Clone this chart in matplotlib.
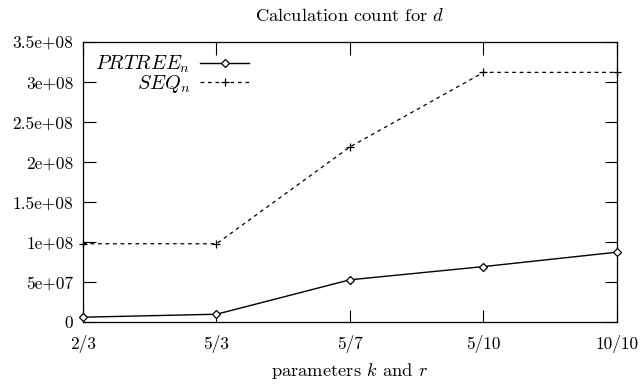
import matplotlib
matplotlib.use('Agg')
import matplotlib.pyplot as plt
import numpy as np

plt.rcParams['font.family'] = ['cmr10', 'DejaVu Serif']
plt.rcParams['mathtext.fontset'] = 'cm'
plt.rcParams['axes.unicode_minus'] = False

categories = ['2/3', '5/3', '5/7', '5/10', '10/10']
prtree = [6.3e6, 1.0e7, 5.3e7, 6.95e7, 8.75e7]
seq = [9.8e7, 9.8e7, 2.19e8, 3.12e8, 3.12e8]
yticks = [0, 5e7, 1e8, 1.5e8, 2e8, 2.5e8, 3e8, 3.5e8]
ylabels = ['0', '5e+07', '1e+08', '1.5e+08', '2e+08', '2.5e+08', '3e+08', '3.5e+08']

fig = plt.figure(figsize=(6.41, 3.85), dpi=100)
ax = fig.add_axes([0.1295, 0.163, 0.833, 0.728])

x = np.arange(len(categories))
ax.plot(x, prtree, color='black', lw=1.0, marker='D', markersize=4.5,
        markerfacecolor='white', markeredgewidth=0.9, label=r'$PRTREE_n$', clip_on=False, zorder=3)
ax.plot(x, seq, color='black', lw=0.9, dashes=(3, 3), marker='+', markersize=6,
        markeredgewidth=0.9, label=r'$SEQ_n$', clip_on=False, zorder=3)

ax.set_xlim(0, len(categories) - 1)
ax.set_ylim(0, 3.5e8)
ax.set_xticks(x)
ax.set_xticklabels(categories, fontsize=12.5)
ax.set_yticks(yticks)
ax.set_yticklabels(ylabels, fontsize=12.5)
ax.tick_params(direction='in', length=9, width=0.8, top=True, right=True, pad=7)
ax.tick_params(axis='x', pad=9)
for s in ax.spines.values():
    s.set_linewidth(0.9)

ax.set_title(r'Calculation count for $d$', fontsize=13.3, pad=15)
ax.set_xlabel(r'parameters $k$ and $r$', fontsize=13.3, labelpad=6)

leg = ax.legend(loc='upper left', frameon=False, markerfirst=False, fontsize=14.5,
                handlelength=2.4, handletextpad=0.5, borderaxespad=0.2, labelspacing=-0.1,
                bbox_to_anchor=(0.0, 1.0))
for t in leg.get_texts():
    t.set_ha('right')

fig.savefig('out.png', dpi=100)
